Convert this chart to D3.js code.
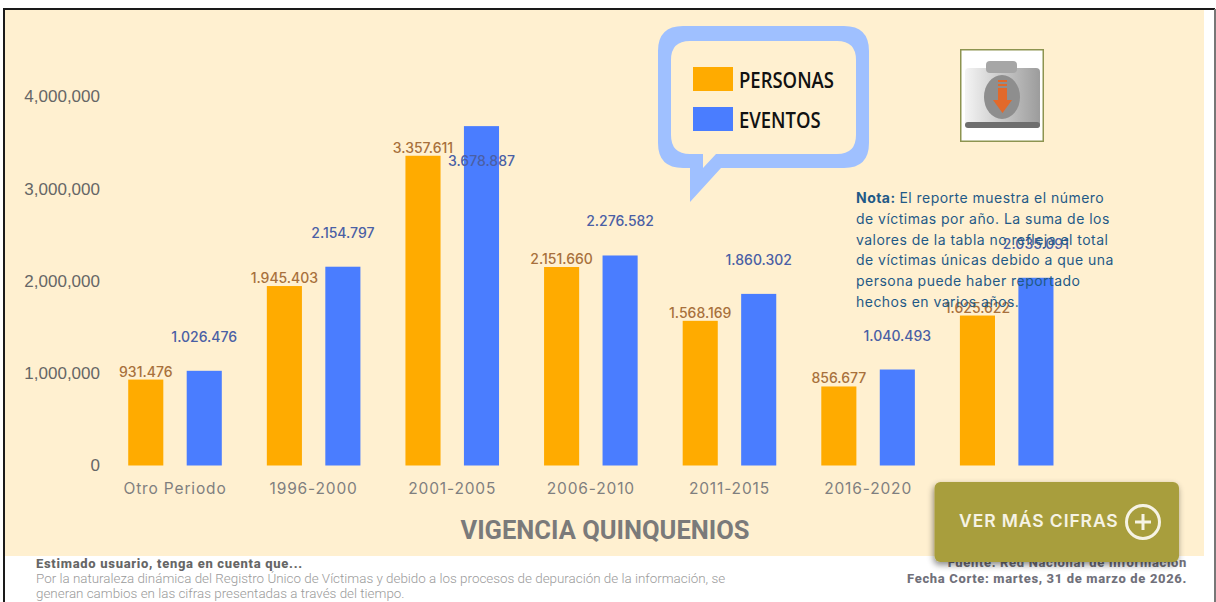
<!DOCTYPE html>
<html>
<head>
<meta charset="utf-8">
<script src="https://cdnjs.cloudflare.com/ajax/libs/d3/7.8.5/d3.min.js"></script>
<style>
html,body { margin:0; padding:0; background:#fff; overflow:hidden; }
svg { display:block; }
text { font-family:"Open Sans",sans-serif; }
</style>
</head>
<body>
<svg id="chart" width="1216" height="602"></svg>
<script>
var categories = ["Otro Periodo","1996-2000","2001-2005","2006-2010","2011-2015","2016-2020","2021-2025"];
var seriesNames = ["PERSONAS","EVENTOS"];
var personas = [931476,1945403,3357611,2151660,1568169,856677,1625622];
var eventos = [1026476,2154797,3678887,2276582,1860302,1040493,2035091];
var yTicks = [0,1000000,2000000,3000000,4000000];
var notaLines = ["El reporte muestra el número","de víctimas por año. La suma de los","valores de la tabla no refleja el total","de víctimas únicas debido a que una","persona puede haber reportado","hechos en varios años."];
var avisoLines = ["Por la naturaleza dinámica del Registro Único de Víctimas y debido a los procesos de depuración de la información, se","generan cambios en las cifras presentadas a través del tiempo."];

var colors = {PERSONAS:"#ffab00",EVENTOS:"#4a7dff"};
var labelColors = {PERSONAS:"#a8703c",EVENTOS:"#4a5fa5"};
var fmt = d3.format(",");
var labelFmt = function (v) { return fmt(v).replace(/,/g,"."); };

var svg = d3.select("#chart");
var defs = svg.append("defs");

// panel
svg.append("rect").attr("x",4).attr("y",9).attr("width",1200).attr("height",547).attr("fill","#fff0d0");
svg.append("path").attr("d","M4 602V9H1215").attr("fill","none").attr("stroke","#1a1a1a").attr("stroke-width",2);
svg.append("path").attr("d","M1215 9V602").attr("fill","none").attr("stroke","#777").attr("stroke-width",2);

var x0 = d3.scaleBand().domain(categories).range([105.7,1076]);
var x1 = d3.scaleBand().domain(seriesNames).range([0,x0.bandwidth()]).paddingInner(0.4).paddingOuter(0.385);
var y = d3.scaleLinear().domain([0,4000000]).range([465.5,96.5]);

// y axis
svg.append("g").selectAll("text").data(yTicks).enter().append("text")
    .attr("x",100).attr("y",function (d) { return y(d); }).attr("dy","0.35em")
    .attr("text-anchor","end").attr("fill","#666")
    .style("font-family","Liberation Sans").style("font-size","17px")
    .text(function (d) { return fmt(d); });

// x axis
svg.append("g").selectAll("text").data(categories).enter().append("text")
    .attr("x",function (d) { return x0(d)+x0.bandwidth()/2; }).attr("y",494)
    .attr("text-anchor","middle").attr("fill","#7f7f7f")
    .style("font-family","Inter").style("font-size","15.5px").style("letter-spacing","0.85px")
    .text(function (d) { return d; });

var groups = svg.append("g").selectAll("g").data(categories).enter().append("g")
    .attr("transform",function (d) { return "translate("+x0(d)+",0)"; });

groups.selectAll("rect").data(function (d,i) {
        return [{s:"PERSONAS",v:personas[i]},{s:"EVENTOS",v:eventos[i]}];
    }).enter().append("rect")
    .attr("x",function (d) { return x1(d.s); })
    .attr("y",function (d) { return y(d.v); })
    .attr("width",x1.bandwidth())
    .attr("height",function (d) { return y(0)-y(d.v); })
    .attr("fill",function (d) { return colors[d.s]; });

// value labels, the blue ones float above their bar except the tallest
groups.selectAll("text").data(function (d,i) {
        return [{s:"PERSONAS",v:personas[i]},{s:"EVENTOS",v:eventos[i]}];
    }).enter().append("text")
    .attr("x",function (d) { return x1(d.s)+x1.bandwidth()/2; })
    .attr("y",function (d) {
        if(d.s === "PERSONAS") { return y(d.v)-3; }
        return d.v > 3000000 ? y(d.v)+40 : y(d.v)-29;
    })
    .attr("text-anchor","middle")
    .attr("fill",function (d) { return labelColors[d.s]; })
    .style("font-family","Inter").style("font-weight","500").style("font-size","14px")
    .text(function (d) { return labelFmt(d.v); });

// x title
svg.append("text").attr("x",605).attr("y",539).attr("text-anchor","middle")
    .attr("fill","#7a7a7a").style("font-family","Roboto").style("font-weight","700").style("font-size","25.5px")
    .text("VIGENCIA QUINQUENIOS");

// legend bubble
svg.append("path")
    .attr("fill-rule","evenodd").attr("fill","#9fc0ff")
    .attr("d","M683 26H844Q869 26 869 51V143Q869 168 844 168H721L690 202V168H683Q658 168 658 143V51Q658 26 683 26Z"
        +"M690 41H837Q856 41 856 60V135Q856 154 837 154H716L703 168V154H690Q671 154 671 135V60Q671 41 690 41Z");
var legend = svg.append("g").selectAll("g").data(seriesNames).enter().append("g")
    .attr("transform",function (d,i) { return "translate(693,"+(67+i*40)+")"; });
legend.append("rect").attr("width",40).attr("height",24).attr("fill",function (d) { return colors[d]; });
legend.append("text").attr("transform","translate(46,21) scale(0.88,1)").attr("fill","#111")
    .style("font-family","Open Sans").style("font-weight","600").style("font-size","21px")
    .text(function (d) { return d; });

// download folder icon
var grad = defs.append("linearGradient").attr("id","folderGrad");
grad.append("stop").attr("offset",0).attr("stop-color","#f4f4f4");
grad.append("stop").attr("offset",1).attr("stop-color","#9c9c9c");
defs.append("filter").attr("id","iconBlur").append("feGaussianBlur").attr("stdDeviation",0.7);
var icon = svg.append("g").attr("transform","translate(960,49)");
icon.append("rect").attr("x",0.75).attr("y",0.75).attr("width",82.5).attr("height",91.5).attr("fill","#fff").attr("stroke","#8d9450").attr("stroke-width",1.5);
var folder = icon.append("g").attr("filter","url(#iconBlur)");
folder.append("rect").attr("x",5).attr("y",19).attr("width",75).attr("height",60).attr("rx",4).attr("fill","url(#folderGrad)");
folder.append("rect").attr("x",5).attr("y",73).attr("width",75).attr("height",6).attr("rx",3).attr("fill","#6e6e6e");
folder.append("rect").attr("x",26).attr("y",12).attr("width",31).attr("height",12).attr("rx",4).attr("fill","#a6a6a6");
folder.append("ellipse").attr("cx",42).attr("cy",48).attr("rx",18).attr("ry",22).attr("fill","#8e8e8e");
folder.append("path").attr("d","M38 31H47V33H38ZM38 35H47V37H38ZM38 39H47V51H52L42.5 64L33 51H38Z").attr("fill","#e2692a");

// note
var nota = svg.append("text").attr("fill","#1f5a87")
    .style("font-family","Inter").style("font-size","14px").style("letter-spacing","0.47px");
nota.append("tspan").attr("x",856).attr("y",203).style("font-weight","700").text("Nota: ");
notaLines.forEach(function (l,i) {
    var t = nota.append("tspan").text(l);
    if(i > 0) { t.attr("x",856).attr("y",203+i*20.8); }
});

// footer left
svg.append("text").attr("x",36).attr("y",568).attr("fill","#666")
    .style("font-family","Roboto").style("font-weight","800").style("font-size","13px").style("letter-spacing","0.7px")
    .text("Estimado usuario, tenga en cuenta que...");
svg.append("g").selectAll("text").data(avisoLines).enter().append("text")
    .attr("x",36).attr("y",function (d,i) { return 583+i*14.5; }).attr("fill","#9a9a9a")
    .style("font-family","Roboto").style("font-weight","300").style("font-size","13.4px")
    .text(function (d) { return d; });

// footer right
svg.append("text").attr("x",1187).attr("y",567).attr("text-anchor","end").attr("fill","#70707a")
    .style("font-family","Roboto").style("font-weight","800").style("font-size","13px").style("letter-spacing","0.65px")
    .text("Fuente: Red Nacional de Información");
svg.append("text").attr("x",1187).attr("y",583).attr("text-anchor","end").attr("fill","#70707a")
    .style("font-family","Roboto").style("font-weight","800").style("font-size","13px").style("letter-spacing","0.65px")
    .text("Fecha Corte: martes, 31 de marzo de 2026.");

// button
defs.append("filter").attr("id","btnShadow").attr("x","-10%").attr("y","-20%").attr("width","120%").attr("height","150%")
    .append("feDropShadow").attr("dx",-1).attr("dy",3).attr("stdDeviation",3).attr("flood-color","#000").attr("flood-opacity",0.45);
svg.append("rect").attr("x",934.5).attr("y",482).attr("width",244.5).attr("height",80).attr("rx",6)
    .attr("fill","#a89e3e").attr("filter","url(#btnShadow)");
svg.append("text").attr("x",959).attr("y",527).attr("fill","#f6f3e4")
    .style("font-family","Inter").style("font-weight","600").style("font-size","17.5px").style("letter-spacing","0.9px")
    .text("VER MÁS CIFRAS");
svg.append("circle").attr("cx",1143).attr("cy",522).attr("r",16.5).attr("fill","none").attr("stroke","#f6f3e4").attr("stroke-width",3);
svg.append("path").attr("d","M1135 522H1151M1143 514V530").attr("stroke","#f6f3e4").attr("stroke-width",3);
</script>
</body>
</html>
